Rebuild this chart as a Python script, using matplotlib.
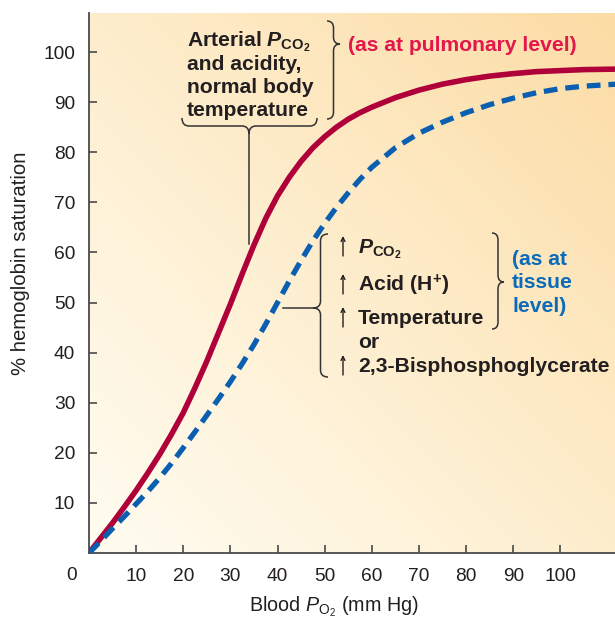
import numpy as np
import matplotlib
matplotlib.use("Agg")
import matplotlib.pyplot as plt
from matplotlib.path import Path
from matplotlib.patches import PathPatch

plt.rcParams['font.family'] = ['Liberation Sans', 'DejaVu Sans']
plt.rcParams['mathtext.fontset'] = 'custom'
plt.rcParams['mathtext.rm'] = 'Liberation Sans'
plt.rcParams['mathtext.it'] = 'Liberation Sans:italic:bold'
plt.rcParams['mathtext.bf'] = 'Liberation Sans:bold'
plt.rcParams['mathtext.sf'] = 'Liberation Sans:italic'

# ---- data ----
po2 = [0, 2.5, 5, 7.5, 10, 12.5, 15, 17.5, 20, 22.5, 25, 27.5, 30, 32.5, 35, 37.5, 40, 42.5, 45,
       47.5, 50, 52.5, 55, 57.5, 60, 65, 70, 75, 80, 85, 90, 95, 100, 105, 112]
arterial = [0, 3, 6, 9.2, 12.5, 16, 19.7, 23.7, 28, 33, 38.3, 44, 49.7, 55.7, 61.5, 66.8, 71.3,
            75, 78.2, 80.9, 83.1, 85, 86.6, 87.9, 89, 90.9, 92.4, 93.6, 94.5, 95.2, 95.7, 96.1,
            96.3, 96.5, 96.6]
tissue = [0, 2.4, 4.9, 7.3, 9.8, 12.3, 15, 17.9, 21, 24.2, 27.5, 30.8, 34.2, 37.8, 41.6, 45.7,
          50, 54.3, 58.4, 62.3, 65.8, 69, 71.9, 74.6, 77, 80.9, 83.8, 86, 87.9, 89.5, 90.8, 91.9,
          92.7, 93.2, 93.6]
xticks = [10, 20, 30, 40, 50, 60, 70, 80, 90, 100]
yticks = [10, 20, 30, 40, 50, 60, 70, 80, 90, 100]

W, H = 615, 621
fig = plt.figure(figsize=(W / 100, H / 100), dpi=100)
ax = fig.add_axes([89 / W, (H - 553) / H, (W - 89) / W, 540 / H])
XMAX, YMAX = 111.6, 107.8
ax.set_xlim(0, XMAX)
ax.set_ylim(0, YMAX)

# background gradient
light = np.array([255, 252, 240]) / 255
dark = np.array([252, 220, 164]) / 255
u = np.linspace(0, 1, 300)[None, :]
v = np.linspace(1, 0, 300)[:, None]
t = np.clip((u + v) / 2, 0, 1) ** 1.1
grad = light[None, None, :] * (1 - t[..., None]) + dark[None, None, :] * t[..., None]
ax.imshow(grad, extent=[0, XMAX, 0, YMAX], aspect='auto', zorder=0, interpolation='bilinear')

ax.plot(po2, arterial, color='#b0003a', lw=4.0, solid_capstyle='round',
        solid_joinstyle='round', zorder=3)
ax.plot(po2, tissue, color='#0a5fb0', lw=3.8, dashes=(2.6, 1.5), dash_capstyle='butt', zorder=3)

for s in ['top', 'right']:
    ax.spines[s].set_visible(False)
for s in ['left', 'bottom']:
    ax.spines[s].set_color('#4a4a4a')
    ax.spines[s].set_linewidth(1.3)
ax.set_xticks(xticks)
ax.set_yticks(yticks)
ax.tick_params(direction='in', length=6, width=1.2, color='#4a4a4a', labelsize=13.8,
               labelcolor='#231f20')
ax.tick_params(axis='x', pad=11)
ax.tick_params(axis='y', pad=10)

# overlay in pixel coordinates for annotations
ov = fig.add_axes([0, 0, 1, 1], zorder=5)
ov.set_xlim(0, W)
ov.set_ylim(H, 0)
ov.axis('off')
ov.patch.set_alpha(0)

TXT = '#231f20'
ov.text(72, 575, '0', fontsize=13.8, color=TXT, ha='center', va='center')
ov.text(21, 263, '% hemoglobin saturation', fontsize=14.6, color=TXT, rotation=90,
        ha='center', va='center')
ov.text(334, 607, r'Blood $\mathsf{P}_{\mathrm{O_2}}$ (mm Hg)', fontsize=14.2, color=TXT,
        ha='center', va='center')

M, C3, L = Path.MOVETO, Path.CURVE3, Path.LINETO


def vbrace(x, ytop, ybot, ytip, depth, r=7):
    xm = x + depth / 2
    xt = x + depth
    verts = [(x, ytop), (xm, ytop), (xm, ytop + r), (xm, ytip - r), (xm, ytip), (xt, ytip),
             (xm, ytip), (xm, ytip + r), (xm, ybot - r), (xm, ybot), (x, ybot)]
    codes = [M, C3, C3, L, C3, C3, C3, C3, L, C3, C3]
    ov.add_patch(PathPatch(Path(verts, codes), fc='none', ec='#333333', lw=1.1))


def hbrace(xl, xr, y, xtip, depth, r=7):
    ym = y + depth / 2
    yt = y + depth
    verts = [(xl, y), (xl, ym), (xl + r, ym), (xtip - r, ym), (xtip, ym), (xtip, yt),
             (xtip, ym), (xtip + r, ym), (xr - r, ym), (xr, ym), (xr, y)]
    codes = [M, C3, C3, L, C3, C3, C3, C3, L, C3, C3]
    ov.add_patch(PathPatch(Path(verts, codes), fc='none', ec='#333333', lw=1.1))


vbrace(327, 21, 119, 44, 13)
hbrace(182, 317, 118, 249, 16)
ov.plot([249, 249], [134, 244], color='#333333', lw=1.1)
vbrace(328, 234, 377, 308, -15)
ov.plot([283, 313], [308, 308], color='#333333', lw=1.1)
vbrace(492, 233, 329, 282, 12)

FS = 15.2
lines = [r'Arterial $\mathit{P}_{\mathbf{CO_2}}$', 'and acidity,', 'normal body', 'temperature']
for txt, yb in zip(lines, [46, 69.5, 93, 116]):
    ov.text(187, yb, txt, fontsize=FS, fontweight='bold', color=TXT, ha='left', va='baseline')

ov.text(348, 51, '(as at pulmonary level)', fontsize=FS, fontweight='bold', color='#e2174b',
        ha='left', va='baseline')

mid = [(r'$\mathit{P}_{\mathbf{CO_2}}$', 253, True), (r'Acid (H$^{\mathbf{+}}$)', 291, True),
       ('Temperature', 324, True), ('or', 348, False), ('2,3-Bisphosphoglycerate', 372, True)]
for txt, yb, arrow in mid:
    ov.text(358, yb, txt, fontsize=FS, fontweight='bold', color=TXT, ha='left', va='baseline')
    if arrow:
        ov.annotate('', xy=(343, yb - 17), xytext=(343, yb + 3),
                    arrowprops=dict(arrowstyle='->', lw=1.0, color=TXT, shrinkA=0, shrinkB=0,
                                    mutation_scale=7))

for txt, yb in zip(['(as at', 'tissue', 'level)'], [265, 288.5, 312]):
    ov.text(512, yb, txt, fontsize=FS, fontweight='bold', color='#0b6bb8', ha='left',
            va='baseline')

fig.savefig('out.png', dpi=100, facecolor='white')
